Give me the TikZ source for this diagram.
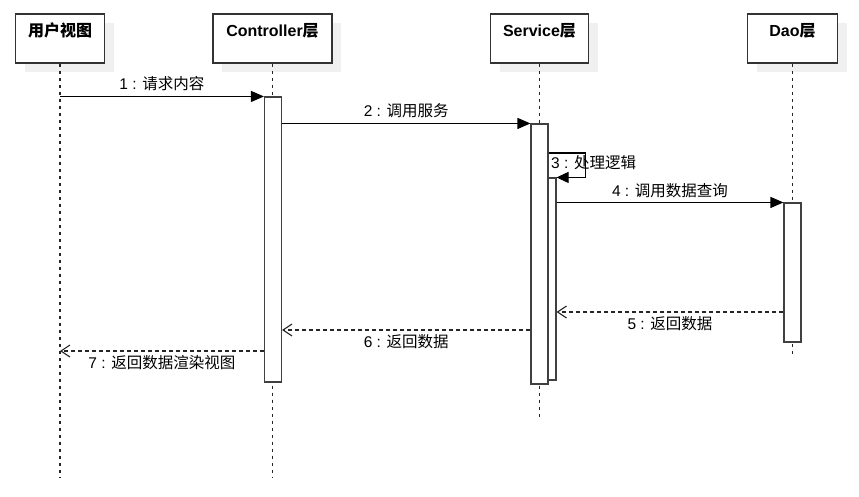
\documentclass[tikz,border=0pt]{standalone}
\usepackage{fontspec}
\setmainfont{Liberation Sans}
\newfontfamily\cjk{Noto Sans CJK SC}
\usetikzlibrary{positioning,arrows.meta,shadows}
\newcommand{\zh}[1]{{\cjk #1}}
\tikzset{
	headbox/.style={draw=black!80,fill=white,line width=1.1pt,minimum height=49pt,inner sep=0pt,
		drop shadow={shadow xshift=9pt,shadow yshift=-9pt,fill=black!6,opacity=1}},
	headtext/.style={font=\bfseries\fontsize{16}{18}\selectfont,inner sep=1pt},
	lifeline/.style={draw=black!85,line width=1.1pt,dash pattern=on 3.5pt off 3.5pt},
	actbar/.style={draw=black!75,fill=white,line width=1.1pt,minimum width=17pt,inner sep=0pt},
	callmsg/.style={line width=1.1pt,-{Triangle[length=13pt,width=11pt]}},
	retmsg/.style={line width=1.1pt,black!85,dash pattern=on 4pt off 3pt,-{Straight Barb[length=9pt,width=12pt]}},
	msgtext/.style={font=\fontsize{15.5}{18}\selectfont,text=black,inner sep=1pt}
}
\begin{document}
\begin{tikzpicture}[x=1pt,y=1pt]
		\useasboundingbox[fill=white] (0,0) rectangle (859,496);
		% header boxes
		\node[headbox,minimum width=89pt] (user) at (60,457.5) {};
		\node[headbox,minimum width=119pt] (ctrl) at (272.5,457.5) {};
		\node[headbox,minimum width=98pt] (svc) at (539.5,457.5) {};
		\node[headbox,minimum width=90pt] (dao) at (792.5,457.5) {};
		\node[headtext] (usertxt) at ([yshift=-17pt]user.north) {\zh{用户视图}};
		\node[headtext] (ctrltxt) at ([yshift=-17pt]ctrl.north) {Controller\zh{层}};
		\node[headtext] (svctxt) at ([yshift=-17pt]svc.north) {Service\zh{层}};
		\node[headtext] (daotxt) at ([yshift=-17pt]dao.north) {Dao\zh{层}};
		% lifelines
		\draw[lifeline] (user.south) -- ++(0,-414);
		\draw[lifeline] (ctrl.south) -- ++(0,-414);
		\draw[lifeline] (svc.south) -- ++(0,-355);
		\draw[lifeline] (dao.south) -- ++(0,-294);
		% activation bars
		\node[actbar,minimum height=285pt] (cbar) at (273,256.5) {};
		\node[actbar,minimum height=202pt] (sbar2) at (547.5,217) {};
		\node[actbar,minimum height=260pt] (sbar) at (539.5,242) {};
		\node[actbar,minimum height=139pt] (dbar) at (792.5,223.5) {};
		% calls
		\draw[callmsg] (user.south |- cbar.north) -- (cbar.north west) node[msgtext,midway,yshift=13pt] (m1) {1 : \zh{请求内容}};
		\draw[callmsg] (cbar.east |- sbar.north) -- (sbar.north west) node[msgtext,midway,yshift=13pt] (m2) {2 : \zh{调用服务}};
		\coordinate (s3) at (sbar.east |- 0,343);
		\draw[callmsg,-{Triangle[length=12pt,width=11pt]}] (s3) -- ++(37,0) |- (sbar2.north east);
		\node[msgtext,anchor=west] (m3) at (550,333) {3 : \zh{处理逻辑}};
		\draw[callmsg] (sbar2.east |- dbar.north) -- (dbar.north west) node[msgtext,midway,yshift=12pt] (m4) {4 : \zh{调用数据查询}};
		% returns
		\draw[retmsg] (dbar.west |- 0,184) -- (sbar2.east |- 0,184) node[msgtext,midway,yshift=-12pt] (m5) {5 : \zh{返回数据}};
		\draw[retmsg] (sbar.west |- 0,166) -- (cbar.east |- 0,166) node[msgtext,midway,yshift=-12pt] (m6) {6 : \zh{返回数据}};
		\draw[retmsg] (cbar.west |- 0,145) -- (user.south |- 0,145) node[msgtext,midway,yshift=-12pt] (m7) {7 : \zh{返回数据渲染视图}};
	\end{tikzpicture}
\end{document}
